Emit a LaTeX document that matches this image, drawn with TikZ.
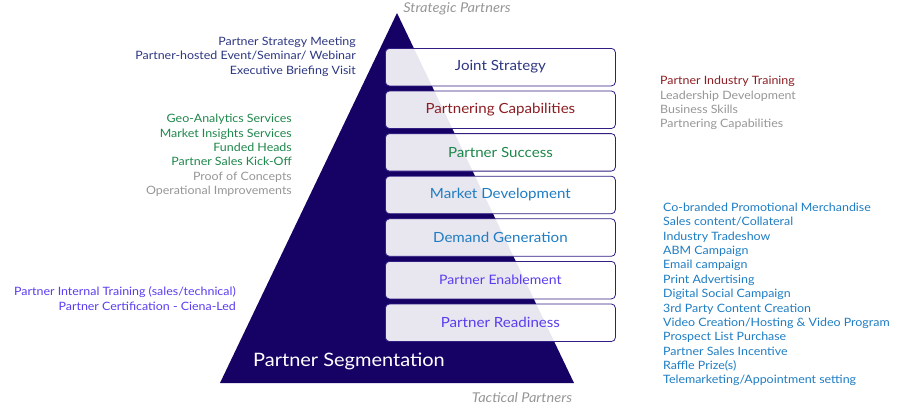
\documentclass[tikz,border=0pt]{standalone}
\usepackage{fontspec}
\setmainfont{Lato}[FakeStretch=1.08]
\definecolor{tri}{RGB}{22,2,100}
\definecolor{boxline}{RGB}{50,30,130}
\definecolor{navytxt}{RGB}{45,55,130}
\definecolor{redtxt}{RGB}{140,30,35}
\definecolor{greentxt}{RGB}{30,135,75}
\definecolor{bluetxt}{RGB}{30,125,195}
\definecolor{purptxt}{RGB}{90,60,240}
\definecolor{graytxt}{RGB}{150,150,150}
\begin{document}
\begin{tikzpicture}[x=1pt,y=-1pt,
  tier/.style={draw=boxline, line width=0.8pt, fill=white, fill opacity=0.9, text opacity=1,
    rounded corners=4pt, minimum width=230pt, minimum height=37.5pt, anchor=north west,
    inner sep=0pt, font=\fontsize{14}{16}\selectfont},
  lst/.style={inner sep=0pt, font=\fontsize{11.5}{14.35}\selectfont},
  edge/.style={inner sep=0pt, font=\fontsize{13.5}{15}\selectfont\itshape, text=graytxt}]
\useasboundingbox (0,0) rectangle (900,405);
\fill[tri] (397,13) -- (574,383) -- (220,383) -- cycle;
\node[tier, text=navytxt] (t1) at (385,48) {Joint Strategy};
\node[tier, text=redtxt] (t2) at (385,90.6) {Partnering Capabilities};
\node[tier, text=greentxt] (t3) at (385,133.2) {Partner Success};
\node[tier, text=bluetxt] (t4) at (385,175.8) {Market Development};
\node[tier, text=bluetxt] (t5) at (385,218.4) {Demand Generation};
\node[tier, text=purptxt, font=\fontsize{13}{15}\selectfont] (t6) at (385,261) {Partner Enablement};
\node[tier, text=purptxt] (t7) at (385,303.6) {Partner Readiness};
\node[anchor=west, inner sep=0pt, text=white, font=\fontsize{18.5}{20}\selectfont] (seg) at (253,361) {Partner Segmentation};
\node[edge] (sp) at (457,9) {Strategic Partners};
\node[edge] (tp) at (522,398) {Tactical Partners};
\node[lst, anchor=east, align=right, text=navytxt] (l1) at (356,56.5)
  {Partner Strategy Meeting\\Partner-hosted Event/Seminar/ Webinar\\Executive Briefing Visit};
\node[lst, anchor=east, align=right] (l2) at (292,155.5)
  {\textcolor{greentxt}{Geo-Analytics Services}\\\textcolor{greentxt}{Market Insights Services}\\\textcolor{greentxt}{Funded Heads}\\\textcolor{greentxt}{Partner Sales Kick-Off}\\\textcolor{graytxt}{Proof of Concepts}\\\textcolor{graytxt}{Operational Improvements}};
\node[lst, anchor=east, align=right, text=purptxt] (l3) at (236,298.5)
  {Partner Internal Training (sales/technical)\\Partner Certification - Ciena-Led};
\node[lst, anchor=west, align=left] (r1) at (660,103)
  {\textcolor{redtxt}{Partner Industry Training}\\\textcolor{graytxt}{Leadership Development}\\\textcolor{graytxt}{Business Skills}\\\textcolor{graytxt}{Partnering Capabilities}};
\node[lst, anchor=west, align=left, text=bluetxt] (r2) at (663,294.5)
  {Co-branded Promotional Merchandise\\Sales content/Collateral\\Industry Tradeshow\\ABM Campaign\\Email campaign\\Print Advertising\\Digital Social Campaign\\3rd Party Content Creation\\Video Creation/Hosting \& Video Program\\Prospect List Purchase\\Partner Sales Incentive\\Raffle Prize(s)\\Telemarketing/Appointment setting};
\end{tikzpicture}
\end{document}
